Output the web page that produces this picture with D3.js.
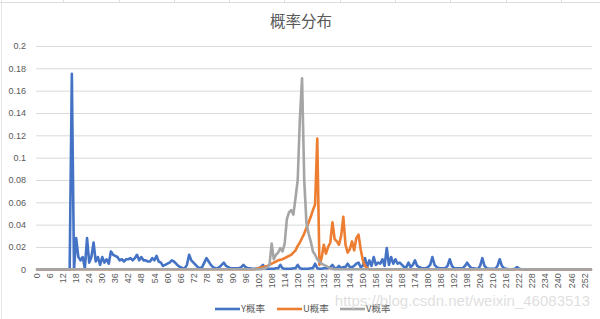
<html>

<head>
    <script src="https://cdn.jsdelivr.net/npm/d3@7"></script>
    <style>
        body {
            margin: 0;
            background: #FFFFFF;
            font-family: "Noto Sans CJK SC", "Liberation Sans", sans-serif;
        }
    </style>
</head>

<body>
    <svg id="Chart"></svg>
</body>

<script>
    // categories 0..255 (pixel levels), labels every 6th
    let categories = d3.range(0, 256)
    let tickLabels = d3.range(0, 256, 6)
    let yTicks = [0, 0.02, 0.04, 0.06, 0.08, 0.1, 0.12, 0.14, 0.16, 0.18, 0.2]
    let seriesNames = ["Y概率", "U概率", "V概率"]
    let seriesColors = ["#4472C4", "#ED7D31", "#A5A5A5"]

    // Y probability, categories 0..222 (rest is 0)
    let yProb = [
        0, 0, 0, 0, 0, 0, 0, 0, 0, 0, 0, 0, 0, 0, 0, 0,
        0.175, 0, 0.028, 0.011, 0.008, 0.011, 0.001, 0.028, 0.006, 0.011,
        0.024, 0.007, 0.011, 0.004, 0.011, 0.006, 0.009, 0.005, 0.016, 0.013,
        0.012, 0.011, 0.008, 0.009, 0.007, 0.009, 0.009, 0.010, 0.008, 0.010,
        0.013, 0.008, 0.011, 0.008, 0.008, 0.007, 0.007, 0.010, 0.008, 0.012,
        0.007, 0.006, 0.003, 0.004, 0.005, 0.006, 0.008, 0.007, 0.005, 0.003,
        0.002, 0.001, 0.001, 0.004, 0.013, 0.008, 0.006, 0.004, 0.002, 0.001,
        0.002, 0.006, 0.010, 0.007, 0.004, 0.002, 0.001, 0.001, 0.002, 0.004,
        0.006, 0.003, 0.002, 0.001, 0.001, 0.001, 0.001, 0.001, 0.002, 0.004,
        0.002, 0.001, 0.001, 0.0005, 0.0005, 0.0005, 0.001, 0.002, 0.004, 0.001,
        0.0005, 0.0005, 0.0005, 0.0005, 0.001, 0.001, 0.004, 0.001, 0.0005, 0.0005,
        0.0005, 0.0005, 0.001, 0.001, 0.004, 0.001, 0.0005, 0.0005, 0.0005, 0.0005,
        0.001, 0.001, 0.005, 0.001, 0.0005, 0.0005, 0.001, 0.001, 0.001, 0.002,
        0.004, 0.001, 0.001, 0.003, 0.001, 0.002, 0.002, 0.005, 0.002, 0.002,
        0.003, 0.005, 0.006, 0.002, 0.003, 0.010, 0.002, 0.008, 0.003, 0.011,
        0.004, 0.006, 0.005, 0.009, 0.003, 0.019, 0.004, 0.011, 0.005, 0.009,
        0.005, 0.006, 0.004, 0.002, 0.002, 0.006, 0.002, 0.004, 0.008, 0.003,
        0.002, 0.001, 0.001, 0.001, 0.002, 0.004, 0.011, 0.004, 0.002, 0.001,
        0.001, 0.001, 0.001, 0.003, 0.009, 0.003, 0.001, 0.001, 0.001, 0.001,
        0.001, 0.003, 0.006, 0.003, 0.001, 0.001, 0.0005, 0.0005, 0.003, 0.010,
        0.003, 0.001, 0.0005, 0.0005, 0.0005, 0.0005, 0.003, 0.009, 0.003, 0.001,
        0.0005, 0, 0, 0, 0.0005, 0.002, 0.0005
    ]

    // U probability, categories 100..153
    let uStart = 100
    let uProb = [
        0, 0.0005, 0.001, 0.0015, 0.002, 0.0025, 0.003, 0.004, 0.005, 0.006,
        0.007, 0.008, 0.0085, 0.009, 0.010, 0.011, 0.012, 0.013, 0.015, 0.017,
        0.021, 0.024, 0.028, 0.032, 0.037, 0.042, 0.047, 0.053, 0.058, 0.117,
        0.004, 0.010, 0.022, 0.014, 0.020, 0.024, 0.042, 0.027, 0.025, 0.022,
        0.030, 0.047, 0.022, 0.015, 0.018, 0.025, 0.017, 0.028, 0.031, 0.018,
        0.008, 0.003, 0.001, 0
    ]

    // V probability, categories 103..137
    let vStart = 103
    let vProb = [
        0, 0.0005, 0.001, 0.002, 0.004, 0.023, 0.009, 0.013, 0.015, 0.019,
        0.016, 0.023, 0.045, 0.051, 0.053, 0.049, 0.064, 0.080, 0.135, 0.171,
        0.080, 0.042, 0.032, 0.025, 0.016, 0.013, 0.009, 0.007, 0.005, 0.004,
        0.003, 0.002, 0.001, 0.0005, 0
    ]

    // every series spans all categories, zero outside the listed part
    function fullSeries(start, values) {
        return categories.map(c => {
            let v = values[c - start]
            return v === undefined ? 0 : v
        })
    }

    function getConfig() {
        let width = 600
        let height = 319
        let margin = { top: 46, bottom: 50, left: 36, right: 8 }
        let bodyHeight = 269.3 - margin.top
        let bodyWidth = width - margin.left - margin.right
        let container = d3.select("#Chart")
            .attr("width", width)
            .attr("height", height)
        return { width, height, margin, bodyHeight, bodyWidth, container }
    }

    function getScales(config) {
        let { margin, bodyWidth, bodyHeight } = config
        let xScale = d3.scaleBand()
            .domain(categories)
            .range([margin.left, margin.left + bodyWidth])
        let yScale = d3.scaleLinear()
            .domain([0, 0.2])
            .range([margin.top + bodyHeight, margin.top])
        return { xScale, yScale }
    }

    function drawSheetLines(config) {
        // spreadsheet cell borders peeking above the chart
        let { container } = config
        container.append("line")
            .attr("x1", 0).attr("x2", 600).attr("y1", 2.5).attr("y2", 2.5)
            .attr("stroke", "#DADCE0")
        let cols = [63, 119, 174, 229, 284, 340, 395, 450, 506, 561]
        container.selectAll(".col").data(cols).enter().append("line")
            .attr("x1", d => d + 0.5).attr("x2", d => d + 0.5)
            .attr("y1", 0).attr("y2", 2.5)
            .attr("stroke", "#DADCE0")
        container.append("line")
            .attr("x1", 1.5).attr("x2", 1.5).attr("y1", 0).attr("y2", 319)
            .attr("stroke", "#E6E6E6")
    }

    function drawAxes(config, scales) {
        let { container, margin, bodyWidth } = config
        let { xScale, yScale } = scales
        let bw = xScale.bandwidth()

        let axisY = d3.axisLeft(yScale)
            .tickValues(yTicks)
            .tickSize(-bodyWidth)
            .tickFormat(d => d3.format("~g")(d))
        let gy = container.append("g")
            .attr("transform", `translate(${margin.left},0)`)
            .call(axisY)
        gy.select(".domain").remove()
        gy.selectAll(".tick line").attr("stroke", "#D9D9D9")
        gy.selectAll(".tick text")
            .attr("x", -10)
            .attr("fill", "#595959")
            .style("font-size", "9px")
            .style("font-family", "'Liberation Sans', sans-serif")

        let axisX = d3.axisBottom(xScale)
            .tickValues(tickLabels)
            .tickSize(0)
        let gx = container.append("g")
            .attr("transform", `translate(0,${yScale(0)})`)
            .call(axisX)
        gx.select(".domain").attr("stroke", "#D9D9D9")
        gx.selectAll(".tick text")
            .attr("transform", "rotate(-90)")
            .attr("x", -4)
            .attr("y", 0)
            .attr("dy", "0.35em")
            .attr("text-anchor", "end")
            .attr("fill", "#595959")
            .style("font-size", "9px")
            .style("font-family", "'Liberation Sans', sans-serif")
    }

    function drawLines(config, scales) {
        let { container } = config
        let { xScale, yScale } = scales
        let bw = xScale.bandwidth()
        let data = [yProb, fullSeries(uStart, uProb), fullSeries(vStart, vProb)]
            .map(values => fullSeries(0, values))
        let line = d3.line()
            .x((d, i) => xScale(categories[i]) + bw / 2)
            .y(d => yScale(d))

        container.append("g").selectAll("path")
            .data(data)
            .enter().append("path")
            .attr("d", line)
            .attr("fill", "none")
            .attr("stroke", (d, i) => seriesColors[i])
            .attr("stroke-width", 2.6)
            .attr("stroke-linejoin", "round")
            .attr("stroke-linecap", "round")
    }

    function drawTitleLegend(config) {
        let { container } = config
        container.append("text")
            .attr("x", 301)
            .attr("y", 27)
            .attr("text-anchor", "middle")
            .attr("fill", "#595959")
            .style("font-size", "15.5px")
            .text("概率分布")

        let legendX = [215, 277, 340]
        let legend = container.append("g")
        let items = legend.selectAll("g")
            .data(seriesNames)
            .enter().append("g")
            .attr("transform", (d, i) => `translate(${legendX[i]},309)`)
        items.append("line")
            .attr("x1", 0).attr("x2", 25)
            .attr("stroke", (d, i) => seriesColors[i])
            .attr("stroke-width", 2.6)
        items.append("text")
            .attr("x", 26)
            .attr("dy", "0.35em")
            .attr("fill", "#595959")
            .style("font-size", "9.5px")
            .text(d => d)
    }

    function drawWatermark(config) {
        config.container.append("text")
            .attr("x", 590)
            .attr("y", 306)
            .attr("text-anchor", "end")
            .attr("fill", "#D4D4D4")
            .attr("fill-opacity", 0.75)
            .style("font-size", "15px")
            .style("font-family", "'Liberation Sans', sans-serif")
            .text("https://blog.csdn.net/weixin_46083513")
    }

    function showChart() {
        let config = getConfig()
        let scales = getScales(config)
        drawSheetLines(config)
        drawAxes(config, scales)
        drawLines(config, scales)
        drawTitleLegend(config)
        drawWatermark(config)
    }

    showChart()
</script>

</html>
